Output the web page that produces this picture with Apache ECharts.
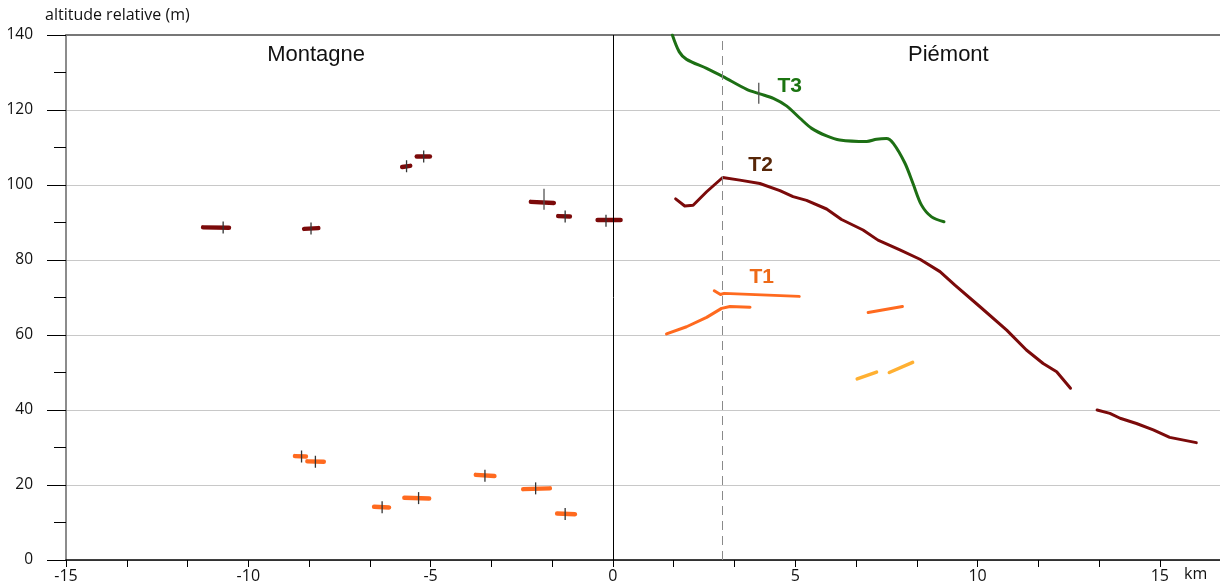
<!DOCTYPE html>
<html>
<head>
<meta charset="utf-8">
<script src="https://cdn.jsdelivr.net/npm/echarts@6/dist/echarts.min.js"></script>
<style>
  html, body { margin: 0; padding: 0; background: #fff; }
  #chart { width: 1220px; height: 586px; }
</style>
</head>
<body>
<div id="chart"></div>
<script>
// axes
var xLabels = [-15, -10, -5, 0, 5, 10, 15];
var yLabels = [0, 20, 40, 60, 80, 100, 120, 140];

// Montagne : segments (km, m)
var montT2 = [
    [[-11.24, 88.7], [-10.53, 88.6]],
    [[-8.47, 88.3], [-8.08, 88.5]],
    [[-5.78, 104.8], [-5.56, 105.1]],
    [[-5.38, 107.6], [-5.02, 107.6]],
    [[-2.25, 95.5], [-1.62, 95.2]],
    [[-1.5, 91.7], [-1.18, 91.6]],
    [[-0.42, 90.7], [0.21, 90.7]]
];
var montT1 = [
    [[-8.72, 27.7], [-8.42, 27.6]],
    [[-8.38, 26.3], [-7.93, 26.2]],
    [[-6.55, 14.2], [-6.14, 14.0]],
    [[-5.72, 16.6], [-5.04, 16.4]],
    [[-3.76, 22.7], [-3.25, 22.4]],
    [[-2.46, 18.9], [-1.73, 19.1]],
    [[-1.53, 12.4], [-1.04, 12.2]]
];
// petits repères verticaux
var shortTicks = [
    [-10.69, 88.7], [-8.28, 88.4], [-5.66, 105.0], [-5.19, 107.6],
    [-1.31, 91.6], [-0.19, 90.5],
    [-8.54, 27.6], [-8.16, 26.2], [-6.33, 14.1], [-5.33, 16.5],
    [-3.51, 22.5], [-2.12, 19.1], [-1.31, 12.3]
];
var longTicks = [[-1.89, 96.2], [4.0, 124.5]];

// Piémont : terrasses
var t3Line = [
    [1.63, 140], [1.82, 135.5], [2.02, 133.5], [2.57, 131.1], [3.02, 128.9],
    [3.67, 125.5], [4.03, 124.3], [4.4, 123.1], [4.76, 121.1], [5.13, 117.8],
    [5.45, 115.1], [5.86, 113.1], [6.22, 112.0], [6.96, 111.6], [7.23, 112.2],
    [7.5, 112.4], [7.69, 111.1], [8.01, 105.8], [8.23, 100.4], [8.46, 94.7],
    [8.74, 91.5], [9.08, 90.2]
];
var t2Line = [
    [1.72, 96.3], [1.97, 94.4], [2.2, 94.6], [2.57, 98.2], [3.01, 102.0],
    [3.48, 101.3], [4.03, 100.4], [4.58, 98.5], [4.94, 96.9], [5.31, 95.9],
    [5.86, 93.6], [6.27, 90.8], [6.86, 88.0], [7.27, 85.3], [7.87, 82.7],
    [8.42, 80.2], [8.97, 76.9], [9.38, 73.3], [10.06, 67.6], [10.8, 61.3],
    [11.34, 56.0], [11.8, 52.4], [12.17, 50.2], [12.55, 45.8]
];
var t2Tail = [
    [13.28, 40.0], [13.63, 39.1], [13.91, 37.8], [14.36, 36.4], [14.82, 34.7],
    [15.27, 32.7], [16.0, 31.3]
];
var t1Segments = [
    [[1.47, 60.3], [2.02, 62.2], [2.57, 64.7], [2.98, 67.1], [3.21, 67.6], [3.76, 67.4]],
    [[2.78, 71.8], [2.95, 70.8], [3.05, 71.1], [5.11, 70.3]],
    [[7.0, 66.0], [7.94, 67.6]]
];
var t0Segments = [
    [[6.7, 48.3], [7.23, 50.1]],
    [[7.58, 50.0], [8.22, 52.7]]
];

var zoneLabels = [[-8.14, 134.7, 'Montagne'], [9.2, 134.7, 'Piémont']];
var terraceLabels = [[4.85, 126.4, 'T3'], [4.05, 105.3, 'T2'], [4.08, 75.5, 'T1']];
var terraceColors = { T3: '#1b7410', T2: '#572608', T1: '#ee6a18' };

var darkRed = '#7b0a0a';
var orange = '#ff6a1f';

var xTicks = [];
for (var i = 0; i <= 18; i++) xTicks.push(-15 + i * 5 / 3);

function segSeries(segs, color, width) {
    return segs.map(function (s) {
        return {
            type: 'line', data: s, showSymbol: false, symbol: 'none', z: 3,
            lineStyle: { color: color, width: width, cap: 'round', join: 'round' }
        };
    });
}

var series = [];
series = series.concat(segSeries(montT2, darkRed, 4.5));
series = series.concat(segSeries(montT1, orange, 4.5));
series = series.concat(segSeries(t1Segments, orange, 3));
series = series.concat(segSeries(t0Segments, '#ffb032', 3.5));
series.push({
    type: 'line', data: t3Line, symbol: 'none', z: 3, smooth: 0.3,
    lineStyle: { color: '#1d6f14', width: 3, cap: 'round', join: 'round' }
});
series.push({
    type: 'line', data: t2Line, symbol: 'none', z: 3,
    lineStyle: { color: darkRed, width: 3, cap: 'round', join: 'round' }
});
series.push({
    type: 'line', data: t2Tail, symbol: 'none', z: 3,
    lineStyle: { color: darkRed, width: 3, cap: 'round', join: 'round' }
});
// repères
series.push({
    type: 'scatter', data: shortTicks, symbol: 'rect', symbolSize: [1.3, 12], z: 5,
    itemStyle: { color: '#333', opacity: 1 }
});
series.push({
    type: 'scatter', data: longTicks, symbol: 'rect', symbolSize: [1.3, 21], z: 5,
    itemStyle: { color: '#555', opacity: 1 }
});
// lignes verticales
series.push({
    type: 'line', data: [], z: 2,
    markLine: {
        silent: true, symbol: 'none', label: { show: false },
        data: [
            { xAxis: 0, lineStyle: { color: '#000', width: 1, type: 'solid' } },
            { xAxis: 3, lineStyle: { color: '#8a8a8a', width: 1, type: [9, 6] } }
        ]
    }
});
// textes
series.push({
    type: 'scatter', data: zoneLabels, symbolSize: 0, z: 6,
    itemStyle: { opacity: 1 },
    label: {
        show: true, position: 'inside', color: '#111', fontSize: 22,
        fontFamily: 'Liberation Sans', textBorderWidth: 0,
        formatter: function (p) { return p.value[2]; }
    }
});
series.push({
    type: 'scatter', z: 6, symbolSize: 0,
    itemStyle: { opacity: 1 },
    data: terraceLabels.map(function (t) {
        return { value: t, label: { color: terraceColors[t[2]] } };
    }),
    label: {
        show: true, position: 'inside', fontSize: 21, fontWeight: 'bold',
        fontFamily: 'Liberation Sans', textBorderWidth: 0,
        formatter: function (p) { return p.value[2]; }
    }
});

var chart = echarts.init(document.getElementById('chart'));
chart.setOption({
    animation: false,
    backgroundColor: '#fff',
    grid: { left: 66, right: 0, top: 35, bottom: 26 },
    xAxis: [{
        type: 'value', min: -15, max: 16.65,
        axisLine: { onZero: false, lineStyle: { color: '#000', width: 1.5 } },
        axisTick: { show: true, customValues: xTicks, length: 7, lineStyle: { color: '#000' } },
        axisLabel: {
            customValues: xLabels, color: '#111', fontSize: 16, margin: 8,
            fontFamily: 'Open Sans'
        },
        splitLine: { show: false }
    }, {
        type: 'value', min: -15, max: 16.65, position: 'top',
        axisLine: { show: true, onZero: false, lineStyle: { color: '#777', width: 2 } },
        axisTick: { show: false }, axisLabel: { show: false }, splitLine: { show: false }
    }],
    yAxis: {
        type: 'value', min: 0, max: 140, interval: 20,
        axisLine: { show: true, onZero: false, lineStyle: { color: '#666', width: 1.5 } },
        axisTick: { show: true, length: 19, lineStyle: { color: '#000' } },
        minorTick: { show: true, splitNumber: 2, length: 12, lineStyle: { color: '#000' } },
        axisLabel: {
            customValues: yLabels, color: '#111', fontSize: 15.5, margin: 33,
            fontFamily: 'Open Sans'
        },
        splitLine: { show: true, lineStyle: { color: '#c8c8c8', width: 1.2 } }
    },
    graphic: [
        {
            type: 'text', left: 45, top: 7,
            style: { text: 'altitude relative (m)', fontSize: 16, fontFamily: 'Open Sans', fill: '#111' }
        },
        {
            type: 'text', left: 1184, top: 566,
            style: { text: 'km', fontSize: 16, fontFamily: 'Open Sans', fill: '#111' }
        }
    ],
    series: series
});
</script>
</body>
</html>
